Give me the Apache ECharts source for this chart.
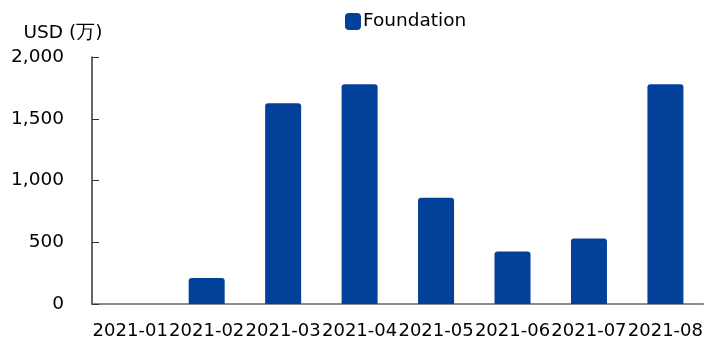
<!DOCTYPE html>
<html>
<head>
<meta charset="utf-8">
<script src="https://cdn.jsdelivr.net/npm/echarts@6/dist/echarts.min.js"></script>
<style>
  html, body { margin: 0; padding: 0; background: #fff; }
  #chart { width: 706px; height: 344px; }
</style>
</head>
<body>
<div id="chart"></div>
<script>
// 月份
const months = ['2021-01', '2021-02', '2021-03', '2021-04', '2021-05', '2021-06', '2021-07', '2021-08']
// Foundation 金额（万美元）
const foundation = [0, 210, 1625, 1780, 860, 425, 530, 1780]
const yTicks = [0, 500, 1000, 1500, 2000]

const font = 'DejaVu Sans, Verdana, sans-serif'
const chart = echarts.init(document.getElementById('chart'))

chart.setOption({
  animation: false,
  textStyle: { fontFamily: font },
  grid: { left: 92, right: 2, top: 57, bottom: 40 },
  legend: {
    left: 340,
    top: 7,
    itemWidth: 16,
    itemHeight: 17,
    textStyle: { color: '#000', fontSize: 18.5, fontFamily: font, padding: [0, 0, 0, -3] },
    data: [{ name: 'Foundation', icon: 'roundRect' }]
  },
  xAxis: {
    type: 'category',
    data: months,
    axisLine: { lineStyle: { color: '#666', width: 1.5 } },
    axisTick: { inside: true, length: 7, lineStyle: { color: '#333' } },
    axisLabel: { interval: 0, color: '#000', fontSize: 18, margin: 18, fontFamily: font }
  },
  yAxis: {
    type: 'value',
    min: yTicks[0],
    max: yTicks[yTicks.length - 1],
    interval: 500,
    name: 'USD (万)',
    nameGap: 14,
    nameTextStyle: { color: '#000', fontSize: 18.5, fontFamily: font, align: 'center', padding: [0, 58, 0, 0] },
    axisLine: { show: true, lineStyle: { color: '#333', width: 1.5 } },
    axisTick: { show: true, inside: true, length: 7, lineStyle: { color: '#333' } },
    splitLine: { show: false },
    axisLabel: {
      color: '#000',
      fontSize: 18.5,
      margin: 28,
      fontFamily: font,
      formatter: (v) => v.toLocaleString('en-US')
    }
  },
  series: [
    {
      name: 'Foundation',
      type: 'bar',
      data: foundation,
      barWidth: 36,
      itemStyle: { color: '#02409A', borderRadius: [3, 3, 0, 0] }
    }
  ]
})
</script>
</body>
</html>
